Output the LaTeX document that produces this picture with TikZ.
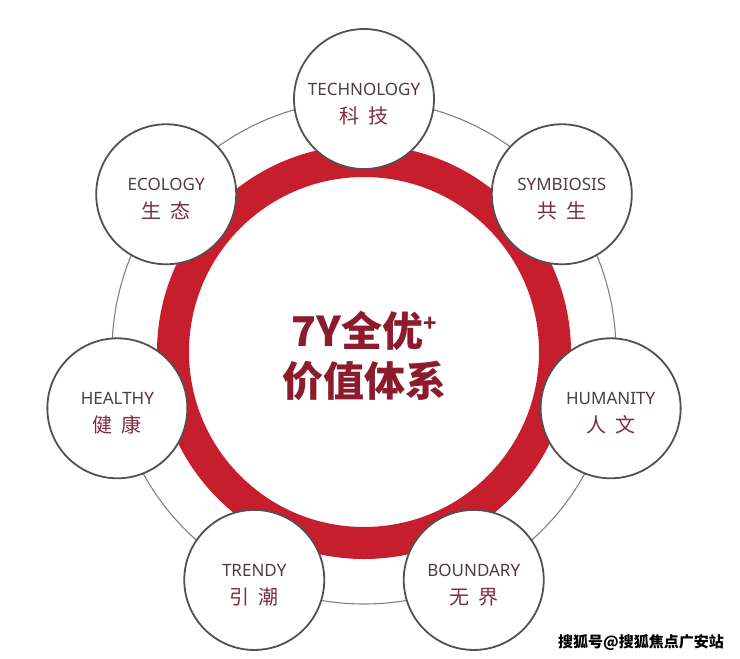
\documentclass[tikz,border=0pt]{standalone}
\usepackage{fontspec}
\setmainfont{Noto Sans}
\newfontfamily\cjk{Noto Sans CJK SC}
\definecolor{ringred}{RGB}{198,30,45}
\definecolor{rimgray}{RGB}{88,78,82}
\definecolor{orbitgray}{RGB}{130,128,130}
\definecolor{engray}{RGB}{72,64,68}
\definecolor{ydark}{RGB}{105,38,50}
\definecolor{zhred}{RGB}{125,45,62}
\definecolor{corered}{RGB}{140,28,45}
% English word, its Y set darker
\newcommand{\enword}[2]{\rule{0pt}{22pt}{\color{engray}#1}{\bfseries\color{ydark}Y}{\color{engray}#2}}
% two spaced Chinese characters
\newcommand{\zhpair}[2]{{\cjk\fontsize{20}{24}\selectfont\color{zhred}#1\hspace{9pt}#2}}
\begin{document}
\begin{tikzpicture}[x=1pt,y=-1pt,
  bubble/.style={circle,draw=rimgray,line width=1.8pt,fill=white,minimum size=140pt,
    inner sep=0pt,align=center,font=\fontsize{17}{20}\selectfont},
  core/.style={align=center,text=corered,font=\cjk\bfseries\fontsize{41}{50}\selectfont}]
\useasboundingbox (0,0) rectangle (740,659);
\coordinate (hub) at (364,352);

% Orbit
\draw[orbitgray,line width=1.1pt] (hub) circle (252pt);

% Red ring
\draw[ringred,line width=32pt] (hub) circle (191pt);

% Bubbles
\node[bubble] (tech)  at ([shift={(90:253pt)}]hub)     {\enword{TECHNOLOG}{}\\[8pt]\zhpair{科}{技}};
\node[bubble] (sym)   at ([shift={(38.57:253pt)}]hub)  {\enword{S}{MBIOSIS}\\[8pt]\zhpair{共}{生}};
\node[bubble] (hum)   at ([shift={(347.14:253pt)}]hub) {\enword{HUMANIT}{}\\[8pt]\zhpair{人}{文}};
\node[bubble] (bound) at ([shift={(295.71:253pt)}]hub) {\enword{BOUNDAR}{}\\[8pt]\zhpair{无}{界}};
\node[bubble] (trend) at ([shift={(244.29:253pt)}]hub) {\enword{TREND}{}\\[8pt]\zhpair{引}{潮}};
\node[bubble] (heal)  at ([shift={(192.86:253pt)}]hub) {\enword{HEALTH}{}\\[8pt]\zhpair{健}{康}};
\node[bubble] (eco)   at ([shift={(141.43:253pt)}]hub) {\enword{ECOLOG}{}\\[8pt]\zhpair{生}{态}};

% Core text
\node[core] (core) at (364,356) {7Y全优\raisebox{15pt}{\fontsize{22}{22}\selectfont+}\\价值体系};

% Source line
\node[font=\cjk\bfseries\fontsize{15}{15}\selectfont,text=black] (sohu) at (641,642) {搜狐号@搜狐焦点广安站};
\end{tikzpicture}
\end{document}
